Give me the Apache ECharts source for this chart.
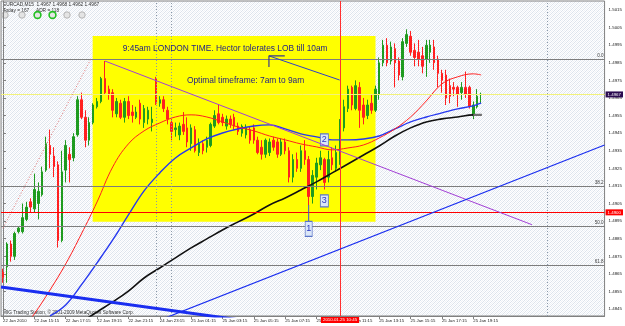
<!DOCTYPE html>
<html><head><meta charset="utf-8">
<script src="https://cdn.jsdelivr.net/npm/echarts@6/dist/echarts.min.js"></script>
<style>html,body{margin:0;padding:0;background:#fff}#c{width:625px;height:326px}</style>
</head><body><div id="c"></div>
<script>
// ---------- data ----------
const xTickLabels = ['22 Jan 2010','22 Jan 15:15','22 Jan 17:15','22 Jan 19:15','22 Jan 21:15','24 Jan 23:15','25 Jan 01:15','25 Jan 03:15','25 Jan 05:15','25 Jan 07:15','25 Jan 09:15','25 Jan 11:15','25 Jan 13:15','25 Jan 15:15','25 Jan 17:15','25 Jan 19:15'];
const yTickValues = [1.4845,1.4855,1.4865,1.4875,1.4885,1.4895,1.4905,1.4915,1.4925,1.4935,1.4945,1.4955,1.4965,1.4975,1.4985,1.4995,1.5005,1.5015];
// [open, close, low, high]
const candles = [
[1.4866,1.4863,1.4860,1.4868],[1.4869,1.4882,1.4860,1.4883],[1.4882,1.4875,1.4872,1.4884],[1.4875,1.4888,1.4873,1.4889],
[1.4889,1.4891,1.4888,1.4892],[1.4889,1.4897,1.4888,1.4905],[1.4896,1.4903,1.4895,1.4906],[1.4906,1.4903,1.4900,1.4908],
[1.4902,1.4913,1.4900,1.4922],[1.4905,1.4912,1.4896,1.4917],[1.4910,1.4923,1.4909,1.4926],[1.4924,1.4939,1.4923,1.4943],
[1.4938,1.4933,1.4925,1.4947],[1.4932,1.4926,1.4920,1.4937],[1.4927,1.4884,1.4880,1.4929],[1.4884,1.4923,1.4883,1.4935],
[1.4924,1.4938,1.4917,1.4941],[1.4933,1.4930,1.4917,1.4937],[1.4931,1.4943,1.4929,1.4945],[1.4944,1.4964,1.4943,1.4966],
[1.4964,1.4954,1.4953,1.4968],[1.4954,1.4941,1.4937,1.4958],[1.4941,1.4951,1.4938,1.4954],[1.4951,1.4961,1.4950,1.4962],
[1.4960,1.4963,1.4959,1.4965],[1.4963,1.4976,1.4962,1.4977],[1.4976,1.4968,1.4967,1.4986],[1.4970,1.4967,1.4964,1.4972],
[1.4968,1.4958,1.4954,1.4970],[1.4956,1.4963,1.4954,1.4965],[1.4962,1.4954,1.4953,1.4964],[1.4954,1.4963,1.4951,1.4965],
[1.4963,1.4955,1.4953,1.4966],[1.4957,1.4955,1.4951,1.4961],[1.4954,1.4957,1.4953,1.4960],[1.4962,1.4953,1.4950,1.4964],
[1.4951,1.4959,1.4948,1.4961],[1.4953,1.4958,1.4950,1.4960],[1.4951,1.4953,1.4946,1.4960],[1.4976,1.4962,1.4961,1.4977],
[1.4962,1.4964,1.4960,1.4966],[1.4964,1.4959,1.4957,1.4966],[1.4958,1.4953,1.4950,1.4960],[1.4951,1.4946,1.4941,1.4953],
[1.4947,1.4948,1.4943,1.4951],[1.4944,1.4949,1.4941,1.4951],[1.4950,1.4946,1.4944,1.4957],[1.4948,1.4940,1.4937,1.4954],
[1.4939,1.4948,1.4935,1.4950],[1.4947,1.4935,1.4934,1.4949],[1.4934,1.4939,1.4932,1.4942],[1.4939,1.4935,1.4933,1.4941],
[1.4937,1.4941,1.4934,1.4943],[1.4938,1.4950,1.4937,1.4951],[1.4949,1.4955,1.4948,1.4958],[1.4956,1.4951,1.4950,1.4961],
[1.4954,1.4951,1.4949,1.4956],[1.4949,1.4953,1.4947,1.4955],[1.4953,1.4950,1.4948,1.4955],[1.4954,1.4949,1.4947,1.4956],
[1.4949,1.4946,1.4944,1.4951],[1.4945,1.4949,1.4943,1.4950],[1.4944,1.4948,1.4942,1.4950],[1.4947,1.4941,1.4939,1.4949],
[1.4948,1.4941,1.4939,1.4950],[1.4941,1.4934,1.4933,1.4943],[1.4937,1.4933,1.4930,1.4941],[1.4933,1.4941,1.4931,1.4942],
[1.4934,1.4940,1.4932,1.4942],[1.4941,1.4937,1.4935,1.4943],[1.4940,1.4933,1.4931,1.4942],[1.4933,1.4940,1.4932,1.4942],
[1.4940,1.4935,1.4933,1.4942],[1.4935,1.4920,1.4917,1.4937],[1.4920,1.4930,1.4917,1.4933],[1.4930,1.4925,1.4923,1.4934],
[1.4925,1.4935,1.4923,1.4938],[1.4935,1.4930,1.4927,1.4941],[1.4930,1.4909,1.4904,1.4932],[1.4909,1.4921,1.4905,1.4924],
[1.4920,1.4928,1.4913,1.4931],[1.4927,1.4931,1.4924,1.4935],[1.4930,1.4917,1.4913,1.4931],[1.4920,1.4930,1.4917,1.4935],
[1.4931,1.4927,1.4924,1.4937],[1.4925,1.4934,1.4923,1.4938],[1.4930,1.4949,1.4927,1.4953],[1.4948,1.4960,1.4946,1.4964],
[1.4959,1.4970,1.4957,1.4972],[1.4971,1.4961,1.4958,1.4972],[1.4959,1.4972,1.4958,1.4975],[1.4971,1.4958,1.4948,1.4974],
[1.4961,1.4954,1.4950,1.4965],[1.4955,1.4961,1.4953,1.4964],[1.4962,1.4958,1.4956,1.4967],[1.4958,1.4970,1.4957,1.4972],
[1.4967,1.4985,1.4964,1.4988],[1.4985,1.4995,1.4983,1.4998],[1.4995,1.4985,1.4983,1.4999],[1.4986,1.4994,1.4984,1.4997],
[1.4993,1.4985,1.4971,1.4996],[1.4986,1.4978,1.4975,1.4988],[1.4977,1.4997,1.4975,1.4999],[1.4996,1.5001,1.4994,1.5004],
[1.5000,1.4991,1.4989,1.5003],[1.4992,1.4988,1.4983,1.4996],[1.4991,1.4987,1.4983,1.4998],[1.4989,1.4983,1.4979,1.4994],
[1.4987,1.4995,1.4977,1.4998],[1.4991,1.4995,1.4985,1.4998],[1.4994,1.4985,1.4981,1.4998],[1.4987,1.4979,1.4971,1.4989],
[1.4979,1.4975,1.4968,1.4981],[1.4978,1.4965,1.4961,1.4981],[1.4972,1.4966,1.4962,1.4976],[1.4971,1.4970,1.4966,1.4974],
[1.4971,1.4967,1.4960,1.4972],[1.4968,1.4971,1.4964,1.4974],[1.4971,1.4967,1.4965,1.4980],[1.4971,1.4960,1.4959,1.4972],
[1.4955,1.4961,1.4953,1.4963],[1.4960,1.4966,1.4959,1.4970],[1.4967,1.4967,1.4962,1.4968]
];
const totalSlots = 154; // bars plus right-side shift space
// moving averages read every 4 bars
const maBars  = [4,8,12,16,20,24,28,32,36,40,44,48,52,56,60,64,68,72,76,80,84,88,92,96,100,104,108,112,116,120,122];
const maRed   = [1.48304,1.48423,1.48559,1.48707,1.48877,1.49059,1.49258,1.49389,1.49463,1.49508,1.49542,1.49554,1.49542,1.49514,1.49485,1.49463,1.49434,1.49412,1.49389,1.49372,1.49355,1.49366,1.49383,1.49423,1.49474,1.49542,1.49633,1.49730,1.49770,1.49787,1.49781];
const maBlue  = [null,null,1.48412,1.48474,1.48588,1.48713,1.48843,1.48985,1.49122,1.49224,1.49309,1.49366,1.49417,1.49451,1.49474,1.49491,1.49497,1.49474,1.49446,1.49429,1.49412,1.49412,1.49417,1.49434,1.49474,1.49514,1.49542,1.49565,1.49588,1.49605,1.49622];
const maBlack = [null,null,null,null,1.48377,1.48434,1.48491,1.48553,1.48627,1.48684,1.48741,1.48798,1.48849,1.48900,1.48946,1.48991,1.49042,1.49082,1.49127,1.49173,1.49224,1.49275,1.49326,1.49377,1.49434,1.49480,1.49514,1.49531,1.49542,1.49554,1.49554];
const fibLabels = ['0.0','38.2','50.0','61.8'];
const fibPrices = [1.4987,1.4915,1.4892,1.4870];
const supportPrice = 1.4900;
const bidPrice = 1.4967;
const separatorBars = [39,43,139];
const signalBar = 86;
const signalLabel = '2010.01.25 10:45';
const purpleTrend = [[26,1.4986],[134.95,1.4893]];
const fibDiagonal = [[0,1.4891],[22.37,1.4987]];
const thickBlueTrend = [[-0.5,1.48576],[60,1.4839]];
const thinBlueTrend = [[38,1.4837],[153.5,1.49383]];
const arrowTrend = [[67.86,1.49889],[85.9,1.49752]];
const arrowHead = [[71.9,1.49889],[67.86,1.49889],[67.86,1.49826]];
const boxCorners = [[22.88,1.50002],[95.05,1.48946]];
const noteTexts = ['9:45am LONDON TIME. Hector tolerates LOB till 10am','Optimal timeframe: 7am to 9am'];
const noteBars = [56.7,61.9];
const notePrices = [1.49931,1.49747];
const markLabels = ['1','2','3'];
const markBars = [78,82,82];
const markPrices = [1.48906,1.49412,1.49065];
const markOneStem = [[78,1.49042],[78,1.48951]];
const lastMaStub = [[120,1.49554],[122.2,1.49554]];

// ---------- chart ----------
const FONT = 'Liberation Sans, Arial, sans-serif';
const pc = document.createElement('canvas'); pc.width = 4; pc.height = 4;
const g = pc.getContext('2d');
g.fillStyle = '#ffffff'; g.fillRect(0,0,4,4);
g.fillStyle = '#dce3ec';
for (let k = 0; k < 4; k++) g.fillRect(k, (4 - k) % 4, 1, 1);
g.fillStyle = '#eef1f6';
for (let k = 0; k < 4; k++) g.fillRect(k, (6 - k) % 4, 1, 1);

const cats = Array.from({length: totalSlots}, (_, i) => String(i));
const maSeries = (vals) => maBars.map((b, k) => vals[k] == null ? null : [b, vals[k]]).filter(p => p);
const trendLine = (name, pts, color, width, type) => ({
  name, type: 'line', xAxisIndex: 1, yAxisIndex: 0, data: pts, showSymbol: false, symbol: 'none',
  lineStyle: {color, width, type: type || 'solid'}, z: 6, silent: true, animation: false
});

const markLineData = [];
fibPrices.forEach((p, k) => markLineData.push({
  yAxis: p, lineStyle: {color: '#7d7d7d', width: 1, type: 'solid'},
  label: {show: true, position: 'insideEndTop', formatter: fibLabels[k], fontSize: 4.6, color: '#404040', distance: 1, fontFamily: FONT}
}));
markLineData.push({yAxis: supportPrice, lineStyle: {color: '#ff0000', width: 1, type: 'solid'},
  label: {show: true, position: 'end', formatter: supportPrice.toFixed(4), backgroundColor: '#ff0000', color: '#ffffff', fontSize: 4.4, padding: [1,2], distance: 1, fontFamily: FONT}});
markLineData.push({yAxis: bidPrice, lineStyle: {color: '#f2f27a', width: 1, type: 'solid'},
  label: {show: true, position: 'end', formatter: bidPrice.toFixed(4), backgroundColor: '#2a0b50', color: '#ffffff', fontSize: 4.4, padding: [1,2], distance: 1, fontFamily: FONT}});
separatorBars.forEach(b => markLineData.push({xAxis: b, lineStyle: {color: '#8a98a8', width: 1, type: [1,2]}, label: {show: false}}));
markLineData.push({xAxis: signalBar, lineStyle: {color: '#ff3030', width: 1, type: 'solid'},
  label: {show: true, position: 'start', formatter: signalLabel, backgroundColor: '#ff0000', color: '#ffffff', fontSize: 4.4, padding: [1,2], distance: 1, fontFamily: FONT}});

const markPointData = [];
noteTexts.forEach((t, k) => markPointData.push({
  coord: [noteBars[k], notePrices[k]], symbol: 'rect', symbolSize: 1, itemStyle: {color: 'rgba(0,0,0,0)'},
  label: {show: true, position: 'inside', formatter: t, fontSize: 8.4, color: '#1c1c8c', fontFamily: FONT}
}));
markLabels.forEach((t, k) => markPointData.push({
  coord: [markBars[k], markPrices[k]], symbol: 'rect', symbolSize: k === 0 ? [7,15] : [8,12],
  itemStyle: {color: '#dbe7f8', borderColor: '#5a74c8', borderWidth: 1},
  label: {show: true, position: 'inside', formatter: t, fontSize: 9, color: '#2a36c0', fontFamily: FONT}
}));

const purple = trendLine('purple', purpleTrend, '#a23fd6', 1);
purple.clip = false;
purple.markLine = {silent: true, symbol: ['none','none'], precision: 6, animation: false, data: markLineData};
purple.markPoint = {silent: true, animation: false, data: markPointData};
purple.markArea = {silent: true, animation: false, itemStyle: {color: '#ffff00'},
  data: [[{coord: boxCorners[0]}, {coord: boxCorners[1]}]]};

const option = {
  animation: false,
  backgroundColor: '#ffffff',
  grid: {left: 0, right: 19, top: 1, bottom: 10, show: true, backgroundColor: {image: pc, repeat: 'repeat'}, borderColor: '#808080', borderWidth: 1},
  xAxis: [{
    type: 'category', data: cats, boundaryGap: true,
    axisLine: {show: true, lineStyle: {color: '#808080'}},
    axisTick: {show: true, alignWithLabel: true, length: 3, interval: (i) => i % 8 === 0 && i <= 120, lineStyle: {color: '#808080'}},
    axisLabel: {interval: (i) => i % 8 === 0 && i <= 120, formatter: (v, i) => xTickLabels[i / 8] || '', align: 'left', fontSize: 4.3, color: '#202020', margin: 3, fontFamily: FONT},
    splitLine: {show: false}
  }, {
    type: 'value', min: -0.5, max: totalSlots - 0.5, show: false
  }],
  yAxis: [{
    type: 'value', position: 'right', min: 1.48411, max: 1.50201, scale: true,
    splitLine: {show: false},
    axisLine: {show: true, lineStyle: {color: '#808080'}},
    axisTick: {show: true, length: 3, customValues: yTickValues, lineStyle: {color: '#808080'}},
    axisLabel: {customValues: yTickValues, formatter: (v) => Number(v).toFixed(4), fontSize: 4.4, margin: 4, color: '#202020', fontFamily: FONT}
  }],
  series: [
    {
      name: 'EURCAD', type: 'candlestick', xAxisIndex: 0, yAxisIndex: 0, data: candles, barWidth: 2, z: 3,
      itemStyle: {color: '#1f9b1f', color0: '#ff2020', borderColor: '#1f9b1f', borderColor0: '#ff2020', borderWidth: 1},
      silent: true
    },
    {name: 'maBlack', type: 'line', xAxisIndex: 1, data: maSeries(maBlack), smooth: 0.4, showSymbol: false, symbol: 'none', lineStyle: {color: '#111111', width: 1.6}, z: 4, silent: true},
    {name: 'maBlue', type: 'line', xAxisIndex: 1, data: maSeries(maBlue), smooth: 0.4, showSymbol: false, symbol: 'none', lineStyle: {color: '#2638f0', width: 1.4}, z: 4, silent: true},
    {name: 'maRed', type: 'line', xAxisIndex: 1, data: maSeries(maRed), smooth: 0.4, showSymbol: false, symbol: 'none', lineStyle: {color: '#ff2020', width: 1}, z: 4, silent: true},
    purple,
    trendLine('fibDiag', fibDiagonal, '#e07070', 1, [1,2]),
    trendLine('thickBlue', thickBlueTrend, '#1a2ef0', 3),
    trendLine('thinBlue', thinBlueTrend, '#1a2ef0', 1.2),
    trendLine('arrowTrend', arrowTrend, '#3040c8', 1),
    trendLine('arrowHead', arrowHead, '#3a3a8a', 1.2),
    trendLine('oneStem', markOneStem, '#3a50d0', 1),
    trendLine('maStub', lastMaStub, '#707070', 2.2)
  ],
  graphic: [
    {type: 'text', left: 3, top: 2, silent: true, style: {text: 'EURCAD,M15  1.4967 1.4968 1.4962 1.4967', font: '4.8px ' + FONT, fill: '#303030'}},
    {type: 'text', left: 3, top: 8, silent: true, style: {text: 'Today = 167     ADR = 118', font: '4.8px ' + FONT, fill: '#303030'}},
    {type: 'circle', shape: {cx: 5, cy: 15, r: 3.2}, silent: true, style: {fill: '#e4e4e4', stroke: '#b4b4b4', lineWidth: 1}},
    {type: 'circle', shape: {cx: 22, cy: 15, r: 3.2}, silent: true, style: {fill: '#e4e4e4', stroke: '#b4b4b4', lineWidth: 1}},
    {type: 'circle', shape: {cx: 37.5, cy: 15, r: 3.4}, silent: true, style: {fill: '#e4e4e4', stroke: '#22c022', lineWidth: 1.6}},
    {type: 'circle', shape: {cx: 52.5, cy: 15, r: 3.4}, silent: true, style: {fill: '#e4e4e4', stroke: '#22c022', lineWidth: 1.6}},
    {type: 'circle', shape: {cx: 67, cy: 15, r: 3.2}, silent: true, style: {fill: '#e4e4e4', stroke: '#b4b4b4', lineWidth: 1}},
    {type: 'circle', shape: {cx: 82, cy: 15, r: 3.2}, silent: true, style: {fill: '#e4e4e4', stroke: '#b4b4b4', lineWidth: 1}},
    {type: 'text', left: 3, top: 310, silent: true, style: {text: 'MIG Trading Station, \u00a9 2001-2009 MetaQuotes Software Corp.', font: '4.7px ' + FONT, fill: '#303030'}}
  ]
};
const chart = echarts.init(document.getElementById('c'), null, {renderer: 'canvas'});
chart.setOption(option);
</script>
</body></html>
